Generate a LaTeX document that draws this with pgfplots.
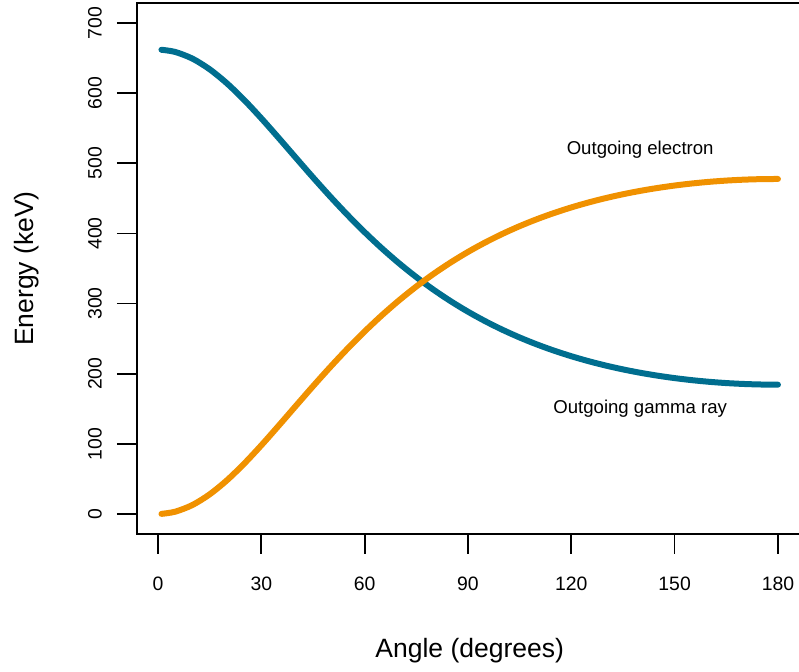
\documentclass[border=0pt]{standalone}
\usepackage{pgfplots}
\pgfplotsset{compat=1.18}
\usepackage{pgfplotstable}
\usepackage{fontspec}
\setmainfont{Liberation Sans}

\definecolor{gammablue}{RGB}{0,110,143}
\definecolor{electronorange}{RGB}{240,145,0}

% Compton scattering of a 662 keV photon: scattered photon and recoil electron energies
\pgfplotstableread{
angle gamma electron
1   661.87   0.13
5   658.75   3.25
10  649.22  12.78
15  634.01  27.99
20  614.03  47.97
25  590.35  71.65
30  564.09  97.91
35  536.34 125.66
40  508.02 153.98
45  479.90 182.10
50  452.57 209.43
55  426.43 235.57
60  401.76 260.24
65  378.72 283.28
70  357.37 304.63
75  337.72 324.28
80  319.72 342.28
85  303.31 358.69
90  288.39 373.61
95  274.87 387.13
100 262.65 399.35
105 251.63 410.37
110 241.73 420.27
115 232.85 429.15
120 224.92 437.08
125 217.87 444.13
130 211.62 450.38
135 206.13 455.87
140 201.34 460.66
145 197.22 464.78
150 193.71 468.29
155 190.80 471.20
160 188.45 473.55
165 186.64 475.36
170 185.36 476.64
175 184.60 477.40
180 184.35 477.65
}\compton

\begin{document}
\begin{tikzpicture}
\begin{axis}[
  at={(136.8pt,137.4pt)}, anchor=south west,
  scale only axis,
  width=665.8pt, height=530.2pt,
  xmin=-6.16, xmax=187.16,
  ymin=-28, ymax=728,
  xtick={0,30,...,180},
  ytick={0,100,...,700},
  tick pos=left,
  tick align=outside,
  major tick length=20pt,
  tick style={black, line width=1.7pt},
  axis line style={black, line width=1.8pt},
  /pgf/number format/assume math mode=true,
  ticklabel style={font=\fontsize{19.4}{22}\selectfont},
  xticklabel style={anchor=center, yshift=-30.4pt},
  yticklabel style={anchor=center, xshift=-21.8pt, rotate=90},
  clip=false,
]
\addplot[gammablue, line width=6pt, line cap=round, line join=round, smooth] table[x=angle, y=gamma] {\compton};
\addplot[electronorange, line width=6pt, line cap=round, line join=round, smooth] table[x=angle, y=electron] {\compton};

\node[font=\fontsize{18.6}{20}\selectfont] at (axis cs:140,520) {Outgoing electron};
\node[font=\fontsize{18.6}{20}\selectfont] at (axis cs:140,150) {Outgoing gamma ray};

\node[font=\fontsize{26.5}{28}\selectfont] at ([yshift=-117.4pt]rel axis cs:0.5,0) {Angle (degrees)};
\node[font=\fontsize{26.5}{28}\selectfont, rotate=90] at ([xshift=-109.8pt]rel axis cs:0,0.5) {Energy (keV)};
\end{axis}
\pgfresetboundingbox
\useasboundingbox (0,0) rectangle (799pt,671pt);
\end{tikzpicture}
\end{document}
